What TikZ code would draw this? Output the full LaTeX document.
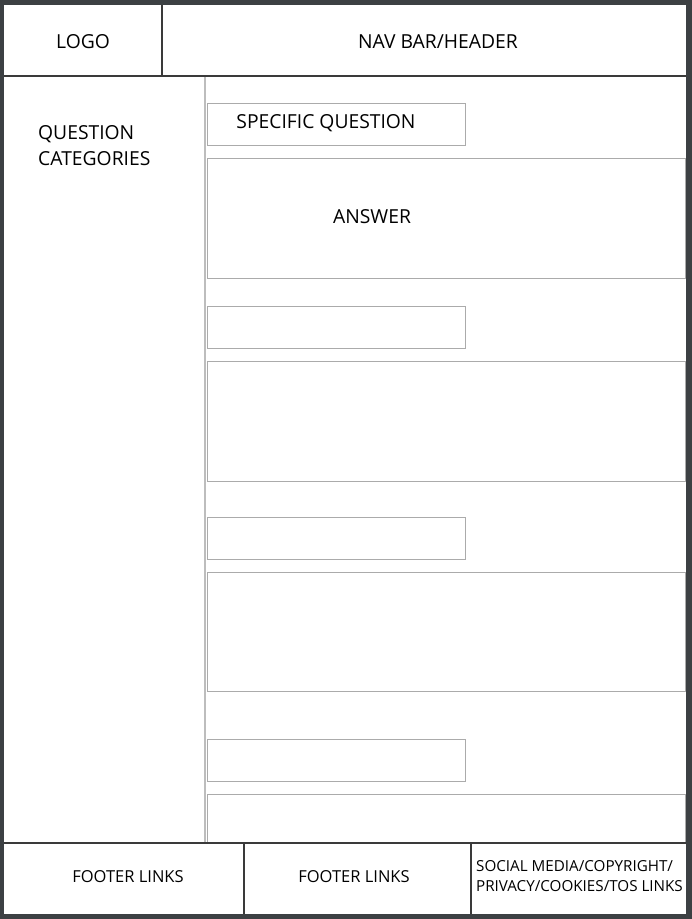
\documentclass[tikz,border=0pt]{standalone}
\usepackage{fontspec}
\setmainfont{Open Sans}
\definecolor{frame}{HTML}{3C4043}
\definecolor{edge}{HTML}{3A3A3A}
\definecolor{boxline}{HTML}{ABABAB}
\definecolor{sideline}{HTML}{BDBDBD}
\tikzset{
  wire/.style={draw=boxline, line width=1pt, anchor=north west, inner sep=0pt},
  heavy/.style={draw=edge, line width=1.4pt},
  big/.style={font=\fontsize{19.3}{26}\selectfont, text=black, inner sep=0pt},
  small/.style={font=\fontsize{16.5}{20}\selectfont, text=black, inner sep=0pt},
  tiny/.style={font=\fontsize{15.2}{20.5}\selectfont, text=black, inner sep=0pt, align=left},
}
\begin{document}
\begin{tikzpicture}[x=1pt,y=-1pt]
  \fill[frame] (0,0) rectangle (692,919);
  \fill[white] (4,5) rectangle (686,914);
  \useasboundingbox (0,0) rectangle (692,919);

  % question / answer blocks
  \foreach \y/\n/\h in {103/1/120, 306/2/120, 517/3/119, 739/4/49} {
    \node[wire, minimum width=258pt, minimum height=42pt] (q\n) at (207,\y) {};
    \node[wire, minimum width=478pt, minimum height=\h pt] (a\n) at (207,\y+55) {};
  }

  % page frame
  \draw[sideline, line width=2pt] (205,76) -- (205,843);
  \draw[heavy] (4,76) -- (686,76);
  \draw[heavy] (162,5) -- (162,76);
  \draw[heavy] (4,843) -- (686,843);
  \draw[heavy] (244,843) -- (244,914);
  \draw[heavy] (471,843) -- (471,914);

  \node[big] (logo) at (83,42) {LOGO};
  \node[big] (nav) at (438,42) {NAV BAR/HEADER};
  \node[big, anchor=west, align=left] (cats) at (38,146) {QUESTION\\CATEGORIES};
  \node[big] (qtext) at (326,123) {SPECIFIC QUESTION};
  \node[big] (atext) at (372,217) {ANSWER};
  \node[small] (foot1) at (128,877) {FOOTER LINKS};
  \node[small] (foot2) at (354,877) {FOOTER LINKS};
  \node[tiny, anchor=west] (social) at (476,876) {SOCIAL MEDIA/COPYRIGHT/\\PRIVACY/COOKIES/TOS LINKS};
\end{tikzpicture}
\end{document}
